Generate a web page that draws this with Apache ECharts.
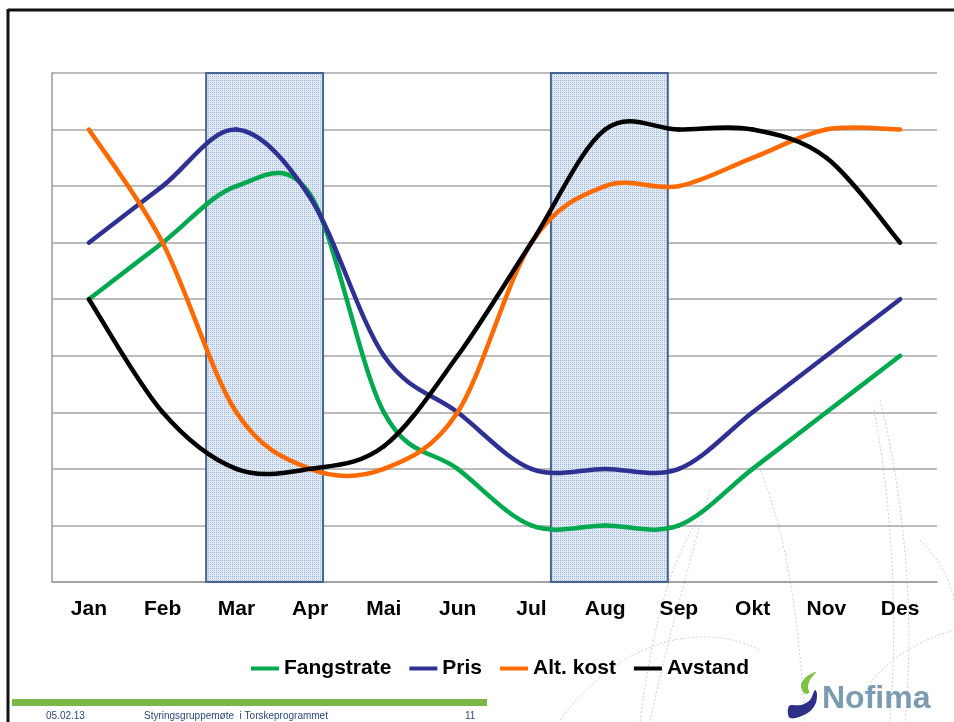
<!DOCTYPE html>
<html>
<head>
<meta charset="utf-8">
<script src="https://cdn.jsdelivr.net/npm/echarts@6/dist/echarts.min.js"></script>
<style>
html,body{margin:0;padding:0;background:#fff;}
#c{width:954px;height:722px;}
</style>
</head>
<body>
<div id="c"></div>
<script>
// ---- data ----
const months = ['Jan','Feb','Mar','Apr','Mai','Jun','Jul','Aug','Sep','Okt','Nov','Des'];
const fangstrate = [5, 6, 7, 6.85, 3, 2, 1, 1, 1, 2, 3, 4];
const pris       = [6, 7, 8, 6.8, 4, 3, 2, 2, 2, 3, 4, 5];
const altKost    = [8, 6, 3, 2, 2, 3, 6, 7, 7, 7.5, 8, 8];
const avstand    = [5, 3, 2, 2, 2.4, 4, 6, 8, 8, 8, 7.5, 6];
const seriesNames = ['Fangstrate','Pris','Alt. kost','Avstand'];
const seriesColors = ['#00a84f','#2e3192','#ff6a00','#000000'];
// shaded periods, in category units along the month axis (0 = left edge, 12 = right edge)
const shadedPeriods = [[2.09, 3.675], [6.765, 8.35]];
const footerTexts = ['05.02.13', 'Styringsgruppemøte  i Torskeprogrammet', '11'];

// dotted pattern for shaded areas
function makePattern(){
  const c = document.createElement('canvas');
  c.width = 4; c.height = 4;
  const g = c.getContext('2d');
  g.fillStyle = '#e1e9f5'; g.fillRect(0,0,4,4);
  g.fillStyle = '#9bb4da';
  for (let i=0;i<4;i+=2){ g.fillRect(i,0,1,1); g.fillRect(0,i,1,1); }
  g.fillStyle = '#b8cae6';
  g.fillRect(2,2,1,1);
  return c;
}
const pattern = makePattern();

const chart = echarts.init(document.getElementById('c'));
const font = 'Liberation Sans, Arial, sans-serif';
const lineW = 4.5;

// Smooth line (Excel-style Catmull-Rom) drawn through the data points,
// positioned with the chart's own axes via api.coord.
function smoothSeries(name, values, color){
  return {
    name, type:'custom', coordinateSystem:'cartesian2d', xAxisIndex:0, yAxisIndex:0,
    z:5, silent:true, itemStyle:{color},
    data: values.map((v,i) => [i, v]),
    encode:{x:0, y:1},
    renderItem(params, api){
      const i = params.dataIndex;
      const n = values.length;
      if (i >= n - 1) return null;
      const P = j => api.coord([Math.max(0, Math.min(n-1, j)), values[Math.max(0, Math.min(n-1, j))]]);
      const p0 = P(i-1), p1 = P(i), p2 = P(i+1), p3 = P(i+2);
      const k = 1/6;
      return {
        type:'bezierCurve',
        shape:{
          x1:p1[0], y1:p1[1],
          cpx1:p1[0] + (p2[0]-p0[0])*k, cpy1:p1[1] + (p2[1]-p0[1])*k,
          cpx2:p2[0] - (p3[0]-p1[0])*k, cpy2:p2[1] - (p3[1]-p1[1])*k,
          x2:p2[0], y2:p2[1]
        },
        style:{fill:null, stroke:color, lineWidth:lineW, lineCap:'round', lineJoin:'round'}
      };
    }
  };
}

// decorative dotted background curves: [x1,y1,cpx1,cpy1,cpx2,cpy2,x2,y2]
const bgCurves = [
  [880,400, 905,500, 915,620, 905,722],
  [874,410, 893,510, 898,620, 890,722],
  [710,490, 690,560, 665,650, 650,722],
  [740,480, 700,500, 660,560, 640,722],
  [760,470, 790,540, 800,640, 805,722],
  [560,720, 620,640, 700,620, 760,650],
  [920,540, 940,560, 950,580, 954,600],
  [860,700, 880,660, 920,640, 954,630]
];

const graphics = [];
bgCurves.forEach(p => graphics.push({
  type:'bezierCurve', silent:true, z:0,
  shape:{x1:p[0], y1:p[1], cpx1:p[2], cpy1:p[3], cpx2:p[4], cpy2:p[5], x2:p[6], y2:p[7]},
  style:{fill:null, stroke:'#c3d3dc', lineWidth:1, lineDash:[2,2]}
}));
graphics.push(
  // slide frame
  {type:'line', shape:{x1:8, y1:10, x2:954, y2:10}, style:{stroke:'#111', lineWidth:3}, z:10},
  {type:'line', shape:{x1:8, y1:9, x2:8, y2:722}, style:{stroke:'#111', lineWidth:3}, z:10},
  // footer bar
  {type:'rect', shape:{x:12, y:699, width:475, height:7}, style:{fill:'#7ab648'}, z:10},
  {type:'text', x:46, y:711, style:{text:footerTexts[0], font:'10px '+font, fill:'#2b4b7b'}, z:10},
  {type:'text', x:144, y:711, style:{text:footerTexts[1], font:'10px '+font, fill:'#2b4b7b'}, z:10},
  {type:'text', x:465, y:711, style:{text:footerTexts[2], font:'10px '+font, fill:'#2b4b7b'}, z:10},
  // logo swooshes
  {type:'polygon', z:10, shape:{points:[[789,706],[801,705],[810,700],[815,690],[817,694],[815,705],[806,714],[790,718]], smooth:0.35}, style:{fill:'#2e2f86'}},
  {type:'polygon', z:10, shape:{points:[[804,693],[801,685],[806,677],[816,672],[810,680],[808,687],[809,693]], smooth:0.35}, style:{fill:'#7dc242'}},
  {type:'text', x:822, y:683, style:{text:'Nofima', font:'bold 32px '+font, fill:'#7b9bb0'}, z:10}
);

const option = {
  animation:false,
  backgroundColor:'#fff',
  color: seriesColors,
  grid:{left:52, right:17, top:73, bottom:140, containLabel:false},
  legend:{
    data:seriesNames, left:251, top:658, padding:0, icon:'rect', itemWidth:28, itemHeight:4,
    itemGap:18,
    textStyle:{fontFamily:font, fontWeight:'bold', fontSize:21, color:'#000'}
  },
  xAxis:[
    {type:'category', data:months, boundaryGap:true,
     axisLine:{show:true, lineStyle:{color:'#9a9a9a', width:1.5}},
     axisTick:{show:false},
     axisLabel:{fontFamily:font, fontWeight:'bold', fontSize:21, color:'#000', margin:17},
     splitLine:{show:false}},
    {type:'value', min:0, max:12, show:false}
  ],
  yAxis:{type:'value', min:0, max:9, interval:1,
    axisLine:{show:true, lineStyle:{color:'#9a9a9a', width:1.5}},
    axisTick:{show:false}, axisLabel:{show:false},
    splitLine:{show:true, lineStyle:{color:'#a6a6a6', width:1.5}}},
  series:[
    {name:'shade', type:'line', xAxisIndex:1, yAxisIndex:0, data:[], z:1, silent:true,
     markArea:{silent:true,
       itemStyle:{color:{image:pattern, repeat:'repeat'}, borderColor:'#46648f', borderWidth:2},
       data: shadedPeriods.map(r => [{xAxis:r[0], yAxis:0}, {xAxis:r[1], yAxis:9}])
     }},
    smoothSeries(seriesNames[0], fangstrate, seriesColors[0]),
    smoothSeries(seriesNames[1], pris, seriesColors[1]),
    smoothSeries(seriesNames[2], altKost, seriesColors[2]),
    smoothSeries(seriesNames[3], avstand, seriesColors[3])
  ],
  graphic:graphics
};
chart.setOption(option);
</script>
</body>
</html>
